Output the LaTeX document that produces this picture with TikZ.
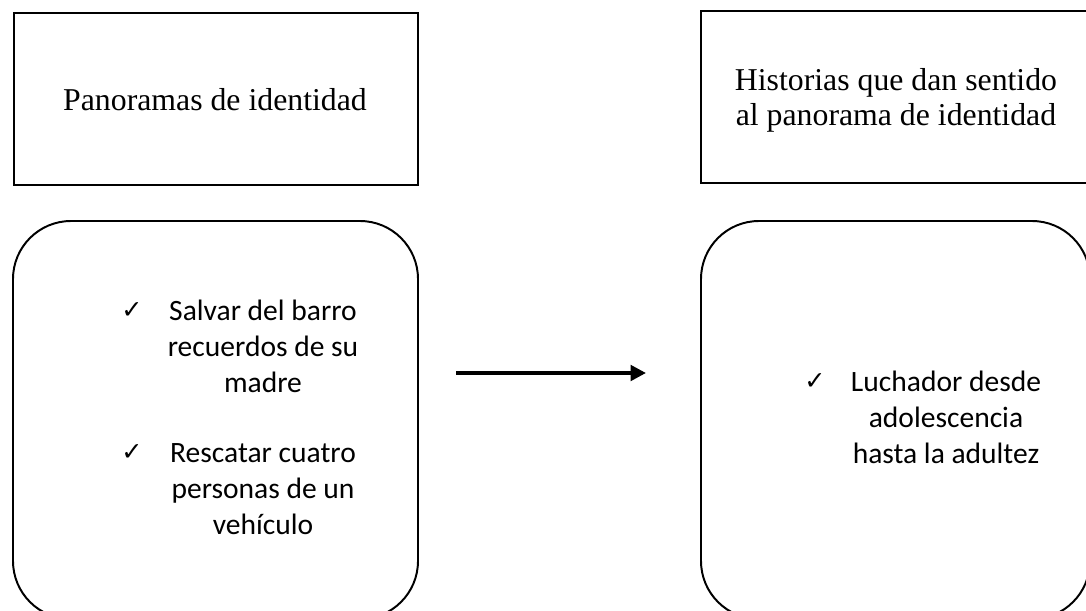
\documentclass[tikz,border=0pt]{standalone}
\usepackage{fontspec}
\setmainfont{Liberation Serif}
\newfontfamily\itemfont{Carlito}
\newfontfamily\checkfont{DejaVu Sans}
\usetikzlibrary{arrows.meta}

\tikzset{
  box/.style={line width=1.4pt},
  roundbox/.style={line width=1.4pt, rounded corners=1.45cm},
  title/.style={font=\fontsize{22.6}{24.9}\selectfont, align=center, inner sep=0pt},
  item/.style={font=\itemfont\fontsize{21}{25.6}\selectfont, align=center, inner sep=0pt},
  tick/.style={font=\checkfont\fontsize{18}{20}\selectfont, inner sep=0pt},
}

\begin{document}
\begin{tikzpicture}[x=0.025cm, y=-0.025cm]
		%%%%% START %%%%%
		\useasboundingbox (0, 0) rectangle (1086, 611);
		
		% top boxes
		\draw[box] (14, 13) rectangle (418, 185);
		\node[title] (panorama) at (215, 100) {Panoramas de identidad};
		
		\draw[box] (701, 11) rectangle (1092, 183);
		\node[title] (historias) at (896, 100) {Historias que dan sentido\\al panorama de identidad};
		
		% lower boxes
		\draw[roundbox] (13, 221) rectangle (418, 619);
		\draw[roundbox] (701, 221) rectangle (1090, 619);
		
		\node[item] (salvar) at (263, 346) {Salvar del barro\\recuerdos de su\\madre};
		\node[item] (rescatar) at (263, 489) {Rescatar cuatro\\personas de un\\veh\'iculo};
		\node[item] (luchador) at (946, 417) {Luchador desde\\adolescencia\\hasta la adultez};
		
		\node[tick] (tickA) at (132, 311) {✓};
		\node[tick] (tickB) at (132, 453) {✓};
		\node[tick] (tickC) at (815, 382) {✓};
		
		% arrow
		\coordinate (arrowStart) at (456, 373);
		\coordinate (arrowEnd) at (646, 373);
		\draw[line width=2.6pt, -{Triangle[length=11pt, width=11pt]}] (arrowStart) -- (arrowEnd);
		%%%%% END %%%%%
\end{tikzpicture}
\end{document}
